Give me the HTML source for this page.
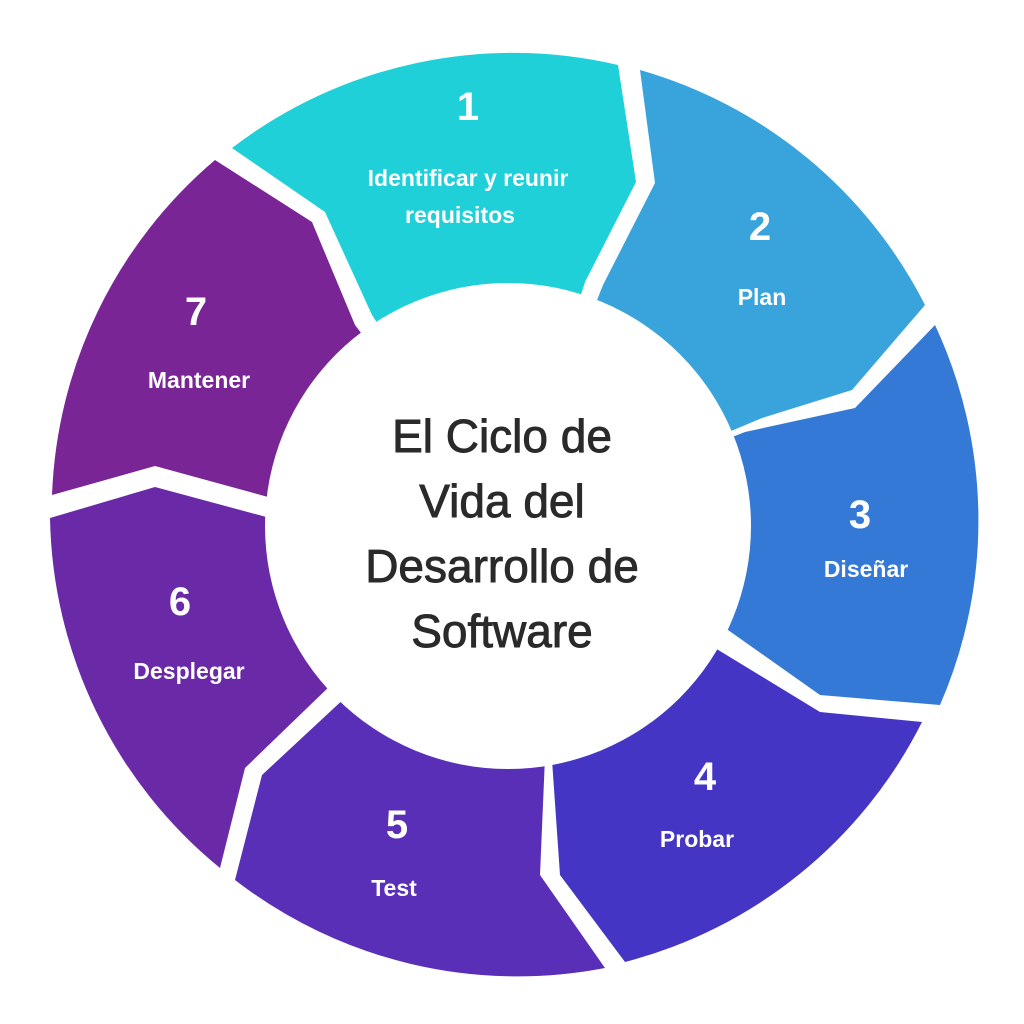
<!DOCTYPE html>
<html><head><meta charset="utf-8"><style>
html,body{margin:0;padding:0;background:#fff;}
svg{display:block;}
text{font-family:"Liberation Sans","DejaVu Sans",sans-serif;}
</style></head><body>
<svg width="1024" height="1024" viewBox="0 0 1024 1024">
<rect width="1024" height="1024" fill="#fff"/>
<path d="M232,148 A462,462 0 0 1 618,65 L636,182 L585,282 L508,525 L372,315 L325,212 Z" fill="#1fd0d8"/>
<path d="M640,70 A462,462 0 0 1 925,305 L852,390 L762,418 L508,525 L603,285 L655,183 Z" fill="#39a3dc"/>
<path d="M935,325 A462,462 0 0 1 940,705 L820,695 L728,630 L508,525 L745,432 L855,408 Z" fill="#3579d6"/>
<path d="M922,722 A462,462 0 0 1 625,962 L560,875 L552,760 L508,525 L715,648 L820,712 Z" fill="#4535c4"/>
<path d="M605,968 A462,462 0 0 1 235,880 L262,775 L348,695 L508,525 L545,757 L540,875 Z" fill="#5a2fb8"/>
<path d="M220,868 A462,462 0 0 1 50,518 L155,487 L270,518 L508,525 L333,683 L245,768 Z" fill="#6a2aa8"/>
<path d="M52,495 A462,462 0 0 1 215,160 L312,222 L355,325 L508,525 L268,497 L155,466 Z" fill="#7a2595"/>
<circle cx="508" cy="526" r="243" fill="#fff"/>
<g fill="#2a2a2a" stroke="#2a2a2a" stroke-width="0.9" font-size="46" text-anchor="middle">
<text x="502" y="452">El Ciclo de</text>
<text x="502" y="517">Vida del</text>
<text x="502" y="582">Desarrollo  de</text>
<text x="502" y="647">Software</text>
</g>
<g fill="#fff" font-weight="bold" text-anchor="middle">
<g font-size="40">
<text x="468" y="120">1</text>
<text x="760" y="240">2</text>
<text x="860" y="528">3</text>
<text x="705" y="790">4</text>
<text x="397" y="838">5</text>
<text x="180" y="615">6</text>
<text x="196" y="325">7</text>
</g>
<g font-size="23">
<text x="468" y="186">Identificar y reunir</text>
<text x="460" y="223">requisitos</text>
<text x="762" y="305">Plan</text>
<text x="866" y="577">Diseñar</text>
<text x="697" y="847">Probar</text>
<text x="394" y="896">Test</text>
<text x="189" y="679">Desplegar</text>
<text x="199" y="388">Mantener</text>
</g>
</g>
</svg>
</body></html>
